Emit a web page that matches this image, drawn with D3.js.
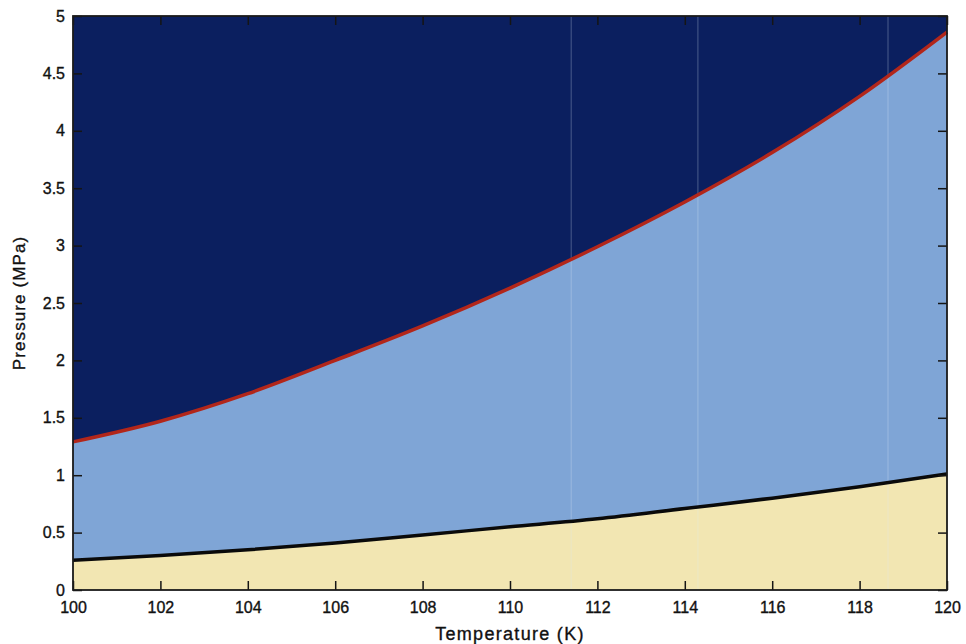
<!DOCTYPE html>
<html>
<head>
<meta charset="utf-8">
<script src="https://cdn.jsdelivr.net/npm/d3@7"></script>
<style>
  body { margin: 0; background: #fff; }
  text { font-family: "Liberation Sans", Arial, sans-serif; fill: #111; stroke: #111; stroke-width: 0.35px; }
</style>
</head>
<body>
<svg width="966" height="644"></svg>
<script>
window.onload = () => {

  // temperature (K) at which the boundaries were read
  const temps = [100, 102, 104, 106, 108, 110, 112, 114, 116, 118, 120];
  // upper boundary (red), MPa
  const upperP = [1.29, 1.47, 1.71, 2.00, 2.30, 2.63, 2.99, 3.38, 3.81, 4.30, 4.86];
  // lower boundary (black), MPa
  const lowerP = [0.26, 0.30, 0.35, 0.41, 0.48, 0.55, 0.62, 0.71, 0.80, 0.90, 1.01];

  const xTicks = [100, 102, 104, 106, 108, 110, 112, 114, 116, 118, 120];
  const yTicks = [0, 0.5, 1, 1.5, 2, 2.5, 3, 3.5, 4, 4.5, 5];
  // faint streaks from the scanned figure
  const streaks = [111.4, 114.3, 118.65];

  const margin = {left: 73, top: 16, right: 19, bottom: 54};
  const width = 966 - margin.left - margin.right;
  const height = 644 - margin.top - margin.bottom;

  const svg = d3.select('svg');
  const g = svg.append('g').attr('transform', 'translate(' + margin.left + ',' + margin.top + ')');

  const x = d3.scaleLinear().domain([100, 120]).range([0, width]);
  const y = d3.scaleLinear().domain([0, 5]).range([height, 0]);

  const data = temps.map((t, i) => ({t: t, up: upperP[i], lo: lowerP[i]}));
  const curve = d3.curveMonotoneX;

  // top region
  g.append('rect').attr('width', width).attr('height', height).attr('fill', '#0b1f5f');

  g.append('path')
    .datum(data)
    .attr('fill', '#7fa5d6')
    .attr('d', d3.area().x(d => x(d.t)).y0(height).y1(d => y(d.up)).curve(curve));

  g.append('path')
    .datum(data)
    .attr('fill', '#f2e6b2')
    .attr('d', d3.area().x(d => x(d.t)).y0(height).y1(d => y(d.lo)).curve(curve));

  g.selectAll('.streak')
    .data(streaks)
    .enter()
    .append('line')
    .attr('class', 'streak')
    .attr('x1', d => x(d)).attr('x2', d => x(d))
    .attr('y1', 0).attr('y2', height)
    .attr('stroke', '#dfeaf5')
    .attr('stroke-opacity', 0.3)
    .attr('stroke-width', 1);

  g.append('path')
    .datum(data)
    .attr('fill', 'none')
    .attr('stroke', '#b2261a')
    .attr('stroke-width', 3.5)
    .attr('d', d3.line().x(d => x(d.t)).y(d => y(d.up)).curve(curve));

  g.append('path')
    .datum(data)
    .attr('fill', 'none')
    .attr('stroke', '#0a0a0a')
    .attr('stroke-width', 3.5)
    .attr('d', d3.line().x(d => x(d.t)).y(d => y(d.lo)).curve(curve));

  // axes, ticks pointing inward on all four sides
  const tl = 9;
  const fmt = d3.format('');

  const ax = g.append('g')
      .attr('class', 'axisX')
      .attr('transform', 'translate(0,' + height + ')')
      .call(d3.axisBottom(x).tickValues(xTicks).tickFormat(fmt).tickSizeInner(-tl).tickSizeOuter(0).tickPadding(12));
  ax.selectAll('text').attr('font-size', 16);

  const ay = g.append('g')
      .attr('class', 'axisY')
      .call(d3.axisLeft(y).tickValues(yTicks).tickFormat(fmt).tickSizeInner(-tl).tickSizeOuter(0).tickPadding(8));
  ay.selectAll('text').attr('font-size', 16);

  g.append('g')
      .call(d3.axisTop(x).tickValues(xTicks).tickFormat('').tickSizeInner(-tl).tickSizeOuter(0));

  g.append('g')
      .attr('transform', 'translate(' + width + ',0)')
      .call(d3.axisRight(y).tickValues(yTicks).tickFormat('').tickSizeInner(-tl).tickSizeOuter(0));

  g.selectAll('.domain').remove();
  g.selectAll('.tick line').attr('stroke', '#151515').attr('stroke-width', 1.5);

  g.append('rect')
    .attr('width', width).attr('height', height)
    .attr('fill', 'none')
    .attr('stroke', '#1a1a1a')
    .attr('stroke-width', 1.8);

  svg.append('text')
    .attr('x', margin.left + width / 2)
    .attr('y', 640)
    .attr('text-anchor', 'middle')
    .attr('font-size', 18)
    .attr('letter-spacing', 1.3)
    .text('Temperature (K)');

  svg.append('text')
    .attr('transform', 'translate(25,' + (margin.top + height / 2) + ') rotate(-90)')
    .attr('text-anchor', 'middle')
    .attr('font-size', 17)
    .attr('letter-spacing', 1.1)
    .text('Pressure (MPa)');

};
</script>
</body>
</html>
